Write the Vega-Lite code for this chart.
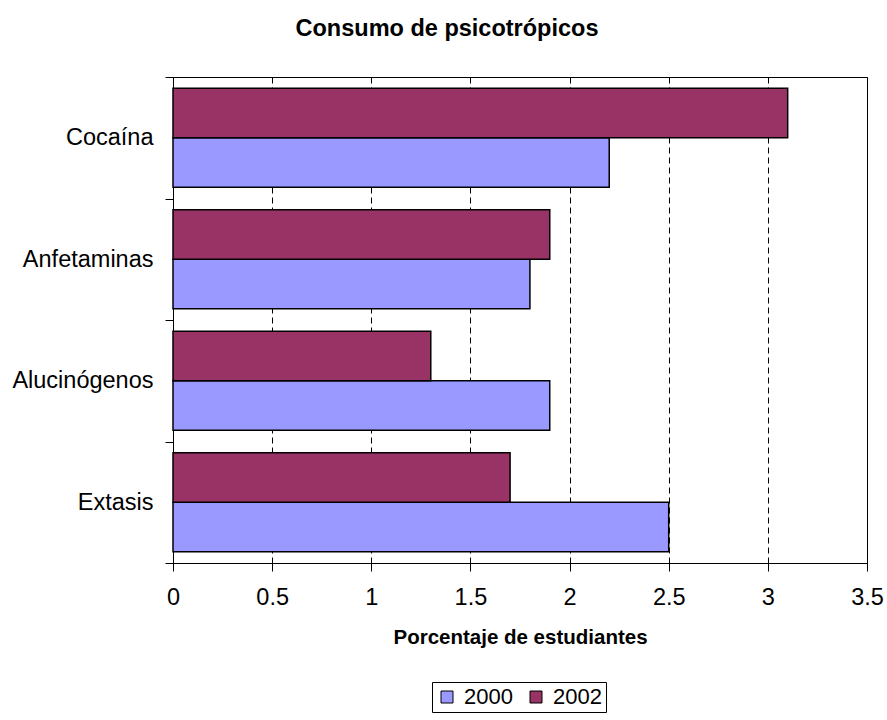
{
  "$schema": "https://vega.github.io/schema/vega-lite/v6.json",
  "width": 694,
  "height": 486,
  "autosize": {"type": "none"},
  "padding": {"left": 173, "top": 77, "right": 20, "bottom": 157},
  "background": "white",
  "config": {
    "font": "Liberation Sans",
    "view": {"stroke": "black", "strokeWidth": 1}
  },
  "title": {
    "text": "Consumo de psicotrópicos",
    "font": "Liberation Sans",
    "fontSize": 23.5,
    "fontWeight": "bold",
    "color": "black",
    "anchor": "middle",
    "frame": "group",
    "dx": -73,
    "offset": 25
  },
  "data": {
    "values": [
      {"droga": "Cocaína", "anio": "2000", "valor": 2.2},
      {"droga": "Cocaína", "anio": "2002", "valor": 3.1},
      {"droga": "Anfetaminas", "anio": "2000", "valor": 1.8},
      {"droga": "Anfetaminas", "anio": "2002", "valor": 1.9},
      {"droga": "Alucinógenos", "anio": "2000", "valor": 1.9},
      {"droga": "Alucinógenos", "anio": "2002", "valor": 1.3},
      {"droga": "Extasis", "anio": "2000", "valor": 2.5},
      {"droga": "Extasis", "anio": "2002", "valor": 1.7}
    ]
  },
  "mark": {"type": "bar", "stroke": "black", "strokeWidth": 1.5},
  "encoding": {
    "y": {
      "field": "droga",
      "type": "nominal",
      "sort": ["Cocaína", "Anfetaminas", "Alucinógenos", "Extasis"],
      "scale": {"paddingInner": 0, "paddingOuter": 0},
      "axis": {
        "title": null,
        "labelFontSize": 23.5,
        "labelColor": "black",
        "labelPadding": 12,
        "labelLimit": 300,
        "tickBand": "extent",
        "tickSize": 8,
        "tickColor": "black",
        "domainColor": "black",
        "grid": false
      }
    },
    "yOffset": {
      "field": "anio",
      "type": "nominal",
      "sort": ["2002", "2000"],
      "scale": {"paddingInner": 0, "paddingOuter": 0.227}
    },
    "x": {
      "field": "valor",
      "type": "quantitative",
      "scale": {"domain": [0, 3.5], "nice": false},
      "axis": {
        "title": "Porcentaje de estudiantes",
        "titleFontSize": 20.5,
        "titleFontWeight": "bold",
        "titleColor": "black",
        "titlePadding": 19,
        "values": [0, 0.5, 1, 1.5, 2, 2.5, 3, 3.5],
        "labelFontSize": 23.5,
        "labelColor": "black",
        "labelPadding": 14,
        "labelFlush": false,
        "labelOverlap": false,
        "tickSize": 8,
        "tickColor": "black",
        "domainColor": "black",
        "grid": true,
        "gridColor": "black",
        "gridDash": [6, 4],
        "gridWidth": 1,
        "format": "~g"
      }
    },
    "color": {
      "field": "anio",
      "type": "nominal",
      "scale": {"domain": ["2000", "2002"], "range": ["#9999FF", "#993366"]},
      "legend": {
        "title": null,
        "orient": "none",
        "legendX": 259,
        "legendY": 605,
        "direction": "horizontal",
        "symbolType": "square",
        "symbolSize": 144,
        "symbolStrokeColor": "black",
        "symbolStrokeWidth": 1,
        "symbolOpacity": 1,
        "labelFontSize": 22,
        "labelColor": "black",
        "labelOffset": 6,
        "strokeColor": "black",
        "padding": 4,
        "columnPadding": 12
      }
    }
  }
}
